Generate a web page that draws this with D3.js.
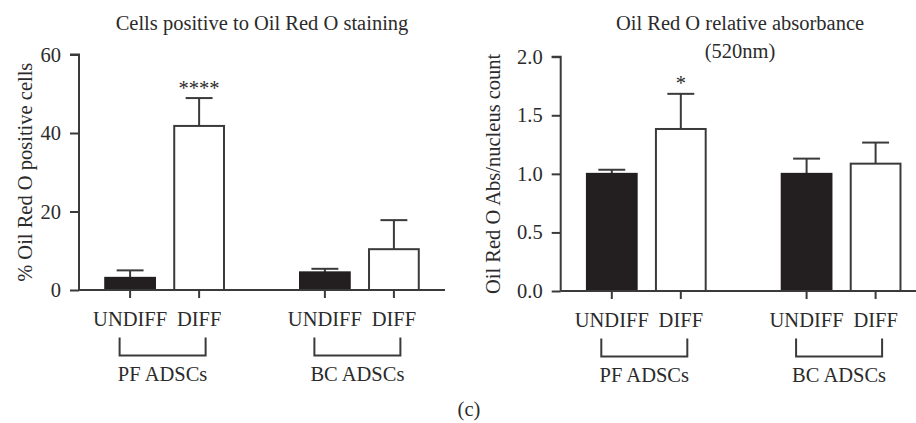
<!DOCTYPE html>
<html>
<head>
<meta charset="utf-8">
<script src="https://cdn.jsdelivr.net/npm/d3@7/dist/d3.min.js"></script>
<style>
  html, body { margin: 0; padding: 0; background: #fff; }
  svg { display: block; }
  text { font-family: "Liberation Serif", "DejaVu Serif", serif; fill: #2b2b2b; }
</style>
</head>
<body>
<svg id="chart" width="916" height="423"></svg>
<script>
// ---- data ----
const groups = ["PF ADSCs", "BC ADSCs"];
const conditions = ["UNDIFF", "DIFF"];

// Panel 1: % Oil Red O positive cells
const cellsMean = [3.1, 41.8, 4.5, 10.4];   // PF UNDIFF, PF DIFF, BC UNDIFF, BC DIFF
const cellsErr  = [1.9, 7.1, 0.9, 7.4];
const cellsSig  = ["", "****", "", ""];
const cellsTicks = [0, 20, 40, 60];

// Panel 2: Oil Red O relative absorbance
const absMean = [1.0, 1.383, 1.0, 1.087];
const absErr  = [0.035, 0.30, 0.13, 0.18];
const absSig  = ["", "*", "", ""];
const absTicks = [0, 0.5, 1.0, 1.5, 2.0];

const svg = d3.select("#chart");
const INK = "#3a3a3a";
const FS = 20.5;

function panel(opt) {
  const g = svg.append("g");
  const y = d3.scaleLinear().domain(opt.domain).range([opt.y0, opt.yTop]);
  const xg = d3.scaleBand().domain(groups).range([opt.x0, opt.x1])
    .paddingInner(0.2914).paddingOuter(0.0852);
  const xc = d3.scaleBand().domain(conditions).range([0, xg.bandwidth()])
    .paddingInner(0.25).paddingOuter(0.125);

  const rows = [];
  groups.forEach((gr, gi) => conditions.forEach((c, ci) => {
    const i = gi * 2 + ci;
    rows.push({ group: gr, cond: c, mean: opt.mean[i], err: opt.err[i], sig: opt.sig[i] });
  }));
  const cx = d => xg(d.group) + xc(d.cond) + xc.bandwidth() / 2;
  const bw = xc.bandwidth();

  // y axis
  const yAxis = d3.axisLeft(y).tickValues(opt.ticks).tickSize(9).tickPadding(9)
    .tickFormat(opt.fmt);
  const ya = g.append("g").attr("transform", `translate(${opt.x0},0)`).call(yAxis);
  ya.select(".domain").attr("stroke", INK).attr("stroke-width", 2)
    .attr("d", `M-9,${y(opt.domain[1])}H0V${y(0)}`);
  ya.selectAll(".tick line").attr("stroke", INK).attr("stroke-width", 2);
  ya.selectAll(".tick text").attr("font-size", FS).attr("fill", "#2b2b2b");

  // error bars (upper only)
  const eb = g.append("g");
  rows.forEach(d => {
    eb.append("line").attr("x1", cx(d)).attr("x2", cx(d))
      .attr("y1", y(d.mean)).attr("y2", y(d.mean + d.err))
      .attr("stroke", INK).attr("stroke-width", 2);
    eb.append("line").attr("x1", cx(d) - bw * 0.26).attr("x2", cx(d) + bw * 0.26)
      .attr("y1", y(d.mean + d.err)).attr("y2", y(d.mean + d.err))
      .attr("stroke", INK).attr("stroke-width", 2);
  });

  // bars
  g.append("g").selectAll("rect").data(rows).join("rect")
    .attr("x", d => cx(d) - bw / 2 + 1)
    .attr("width", bw - 2)
    .attr("y", d => y(d.mean))
    .attr("height", d => y(0) - y(d.mean))
    .attr("fill", d => d.cond === "UNDIFF" ? "#231f20" : "#ffffff")
    .attr("stroke", d => d.cond === "UNDIFF" ? "#231f20" : INK)
    .attr("stroke-width", 2);

  // significance
  g.append("g").selectAll("text").data(rows.filter(d => d.sig)).join("text")
    .attr("x", cx).attr("y", d => y(d.mean + d.err) - 3.5)
    .attr("text-anchor", "middle").attr("font-size", FS).text(d => d.sig);

  // x axis
  const xa = g.append("g");
  xa.append("line").attr("x1", opt.x0).attr("x2", opt.x1)
    .attr("y1", y(0)).attr("y2", y(0)).attr("stroke", INK).attr("stroke-width", 2);
  rows.forEach(d => {
    xa.append("line").attr("x1", cx(d)).attr("x2", cx(d))
      .attr("y1", y(0)).attr("y2", y(0) + 8).attr("stroke", INK).attr("stroke-width", 2);
    xa.append("text").attr("x", cx(d)).attr("y", y(0) + 35.5)
      .attr("text-anchor", "middle").attr("font-size", FS).text(d.cond);
  });
  // brackets + group labels
  groups.forEach(gr => {
    const l = xg(gr) + xc("UNDIFF") + xc.bandwidth() / 2 - 10.5;
    const r = xg(gr) + xc("DIFF") + xc.bandwidth() / 2 + 6.5;
    const t = y(0) + 47.5, b = y(0) + 65.5;
    xa.append("path").attr("d", `M${l},${t}V${b}H${r}V${t}`)
      .attr("fill", "none").attr("stroke", INK).attr("stroke-width", 2);
    xa.append("text").attr("x", (l + r) / 2).attr("y", y(0) + 90.5)
      .attr("text-anchor", "middle").attr("font-size", FS).text(gr);
  });

  // y label
  g.append("text")
    .attr("transform", `translate(${opt.ylabX},${(y(0) + y(opt.domain[1])) / 2}) rotate(-90)`)
    .attr("text-anchor", "middle").attr("font-size", FS).text(opt.ylabel);

  // title
  opt.title.forEach((t, i) => {
    g.append("text").attr("x", opt.titleX).attr("y", 30 + i * 27.5)
      .attr("text-anchor", "middle").attr("font-size", FS).text(t);
  });
}

panel({
  x0: 79, x1: 445, y0: 290, yTop: 54.5, domain: [0, 60], ticks: cellsTicks,
  fmt: d3.format("d"), mean: cellsMean, err: cellsErr, sig: cellsSig,
  ylabel: "% Oil Red O positive cells", ylabX: 32,
  title: ["Cells positive to Oil Red O staining"], titleX: 262
});

panel({
  x0: 560.7, x1: 926.7, y0: 291, yTop: 56.7, domain: [0, 2], ticks: absTicks,
  fmt: d3.format(".1f"), mean: absMean, err: absErr, sig: absSig,
  ylabel: "Oil Red O Abs/nucleus count", ylabX: 500,
  title: ["Oil Red O relative absorbance", "(520nm)"], titleX: 740
});

svg.append("text").attr("x", 469).attr("y", 416).attr("text-anchor", "middle")
  .attr("font-size", FS).text("(c)");
</script>
</body>
</html>
